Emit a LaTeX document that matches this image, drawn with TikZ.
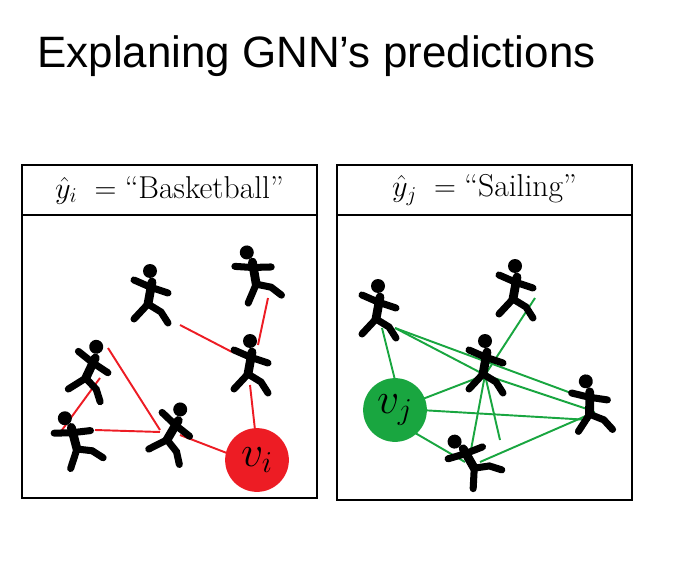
\documentclass[tikz,border=0pt]{standalone}
\usepackage{fontspec}
\setmainfont{Liberation Sans}
\newfontfamily\lmfont{Latin Modern Roman}
\usepackage{amsmath}
\definecolor{gnnred}{rgb}{0.93, 0.11, 0.14}
\definecolor{gnngreen}{rgb}{0.10, 0.65, 0.25}
\tikzset{
  panel/.style={draw,line width=0.8pt},
  fig/.style={inner sep=0pt,minimum size=50pt},
  redge/.style={gnnred,line width=1.1pt},
  gedge/.style={gnngreen,line width=1.1pt},
  athlete/.pic={
    \fill (0,-24) circle (7);
    \draw[line width=5pt,line cap=round] (2,-13) -- (-2,9);
    \draw[line width=4pt,line cap=round] (-16,-15) -- (0,-8) -- (18,-2);
    \draw[line width=4pt,line cap=round] (-2,9) -- (-16,24);
    \draw[line width=4pt,line cap=round] (-2,9) -- (11,17) -- (18,28);
  }
}
\begin{document}
\begin{tikzpicture}[x=0.02cm,y=-0.02cm]
\useasboundingbox (0,0) rectangle (690,571);
\node[anchor=base west,inner sep=0pt] (title) at (37,68) {\fontsize{25}{30}\selectfont Explaning GNN’s predictions};

% left panel
\draw[panel] (22,165) rectangle (317,498);
\draw[panel] (22,215) -- (317,215);
\node (hl) at (169.5,190) {\fontsize{18}{20}\selectfont\lmfont $\hat{y}_i\;=\;$“Basketball”};

\node[fig] (la) at (150,295) {};
\node[fig] (lb) at (255,275) {};
\node[fig] (lc) at (90,370) {};
\node[fig] (ld) at (250,365) {};
\node[fig] (le) at (75,440) {};
\node[fig] (lf) at (172,432) {};
\draw[redge] (180,325) -- (232,352);
\draw[redge] (268,298) -- (258,345);
\draw[redge] (108,348) -- (160,430);
\draw[redge] (100,378) -- (62,430);
\draw[redge] (95,430) -- (160,432);
\draw[redge] (180,435) -- (232,455);
\draw[redge] (250,385) -- (255,430);
\pic at (la) {athlete};
\pic[rotate=20] at (lb) {athlete};
\pic[rotate=-15] at (lc) {athlete};
\pic at (ld) {athlete};
\pic[rotate=25] at (le) {athlete};
\pic[rotate=-20] at (lf) {athlete};
\node[circle,fill=gnnred,minimum size=64pt*0.567,inner sep=0pt] (vi) at (257,460) {\fontsize{24}{24}\selectfont\lmfont $v_i$};

% right panel
\draw[panel] (337,165) rectangle (632,500);
\draw[panel] (337,215) -- (632,215);
\node (hr) at (484.5,190) {\fontsize{18}{20}\selectfont\lmfont $\hat{y}_j\;=\;$“Sailing”};

\node[fig] (ra) at (378,310) {};
\node[fig] (rb) at (515,290) {};
\node[fig] (rc) at (485,365) {};
\node[fig] (rd) at (590,405) {};
\node[fig] (re) at (470,460) {};
\coordinate (rbc) at (535,298);
\coordinate (rcc) at (485,375);
\draw[gedge] (382,328) -- (395,380);
\draw[gedge] (395,328) -- (485,375);
\draw[gedge] (395,328) -- (590,400);
\draw[gedge] (rbc) -- (rcc);
\draw[gedge] (rcc) -- (420,400);
\draw[gedge] (rcc) -- (590,410);
\draw[gedge] (rcc) -- (470,455);
\draw[gedge] (rcc) -- (500,440);
\draw[gedge] (410,430) -- (465,462);
\draw[gedge] (595,412) -- (480,462);
\draw[gedge] (420,410) -- (590,420);
\pic at (ra) {athlete};
\pic at (rb) {athlete};
\pic at (rc) {athlete};
\pic[rotate=10] at (rd) {athlete};
\pic[rotate=40] at (re) {athlete};
\node[circle,fill=gnngreen,minimum size=64pt*0.567,inner sep=0pt] (vj) at (395,410) {\fontsize{24}{24}\selectfont\lmfont $v_j$};
\end{tikzpicture}
\end{document}
